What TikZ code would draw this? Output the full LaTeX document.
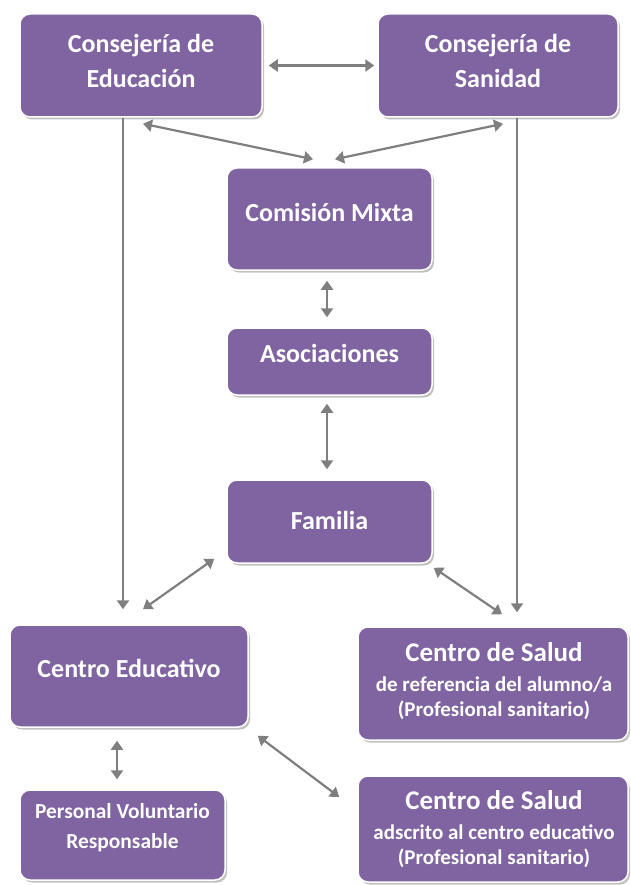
\documentclass[tikz,border=0pt]{standalone}
\usepackage{fontspec}
\setmainfont{Carlito}
\usetikzlibrary{arrows.meta,shadows,calc}
\definecolor{boxpurple}{HTML}{8064A2}
\definecolor{arrowgray}{HTML}{7F7F7F}
\tikzset{
  box/.style={rounded corners=10pt, fill=boxpurple, draw=white, line width=1.5pt,
    drop shadow={shadow xshift=2pt, shadow yshift=-2.5pt, fill=black!30, opacity=0.8},
    inner sep=0pt},
  txt/.style={text=white, font=\bfseries, align=center, inner sep=0pt},
  big/.style={font=\fontsize{26}{35}\selectfont\bfseries},
  small/.style={font=\fontsize{21.4}{30}\selectfont\bfseries},
  sub/.style={font=\fontsize{21}{25}\selectfont\bfseries},
  link/.style={draw=arrowgray, line width=2.2pt, {Triangle[length=9pt,width=12pt]}-{Triangle[length=9pt,width=12pt]}},
  down/.style={draw=arrowgray, line width=2.2pt, -{Triangle[length=9pt,width=12pt]}}
}
\begin{document}
\begin{tikzpicture}[x=1pt,y=-1pt]
\useasboundingbox (0,0) rectangle (630,885);
% boxes
\node[box, minimum width=242pt, minimum height=103pt] (ce) at (141,65.5) {};
\node[box, minimum width=240pt, minimum height=103pt] (cs) at (498,65.5) {};
\node[box, minimum width=205pt, minimum height=102pt] (cm) at (329.5,219) {};
\node[box, minimum width=205pt, minimum height=67pt] (as) at (329.5,361.5) {};
\node[box, minimum width=205pt, minimum height=83pt] (fa) at (329.5,521.5) {};
\node[box, minimum width=238pt, minimum height=102pt] (ced) at (129,676) {};
\node[box, minimum width=270pt, minimum height=113pt] (csa) at (493,683.5) {};
\node[box, minimum width=205pt, minimum height=90pt] (pv) at (122.5,835) {};
\node[box, minimum width=270pt, minimum height=106pt] (csb) at (493,829) {};
% texts
\node[txt, big] (ce-t) at (141,60.5) {Consejería de\\Educación};
\node[txt, big] (cs-t) at (498,60.5) {Consejería de\\Sanidad};
\node[txt, big] (cm-t) at (329.5,212) {Comisión Mixta};
\node[txt, big] (as-t) at (329.5,353) {Asociaciones};
\node[txt, big] (fa-t) at (329.5,520) {Familia};
\node[txt, big] (ced-t) at (129,668) {Centro Educativo};
\node[txt, small] (pv-t) at (122.5,828) {Personal Voluntario\\Responsable};
\node[txt, sub] (csa-t) at (494,681) {{\fontsize{27}{25}\selectfont Centro de Salud}\\[5pt]de referencia del alumno/a\\(Profesional sanitario)};
\node[txt, sub] (csb-t) at (494,829) {{\fontsize{27}{25}\selectfont Centro de Salud}\\[5pt]adscrito al centro educativo\\(Profesional sanitario)};
% connectors
\draw[link] ([xshift=6pt]ce.east) -- ([xshift=-3pt]cs.west);
\draw[down] (ce.south -| 123,0) -- ([yshift=15pt]ced.north -| 123,0);
\draw[down] (cs.south -| 517,0) -- ([yshift=14pt]csa.north -| 517,0);
\draw[link] ($(ce.south)+(2,6)$) -- ($(cm.north)+(-16.5,-8)$);
\draw[link] ($(cs.south)+(5,6)$) -- ($(cm.north)+(5.5,-8)$);
\draw[link] ($(cm.south)+(-2.5,10)$) -- ($(as.north)+(-2.5,-10)$);
\draw[link] ($(as.south)+(-2.5,8)$) -- ($(fa.north)+(-2.5,-10)$);
\draw[link] ($(fa.south west)+(-12,-5)$) -- ($(ced.north)+(14,-15)$);
\draw[link] ($(fa.south east)+(1,4)$) -- ($(csa.north)+(9,-12)$);
\draw[link] ($(ced.south)+(-12,13)$) -- ($(pv.north)+(-5.5,-10)$);
\draw[link] ($(ced.south east)+(9,8)$) -- ($(csb.west)+(-18,-32)$);
\end{tikzpicture}
\end{document}
